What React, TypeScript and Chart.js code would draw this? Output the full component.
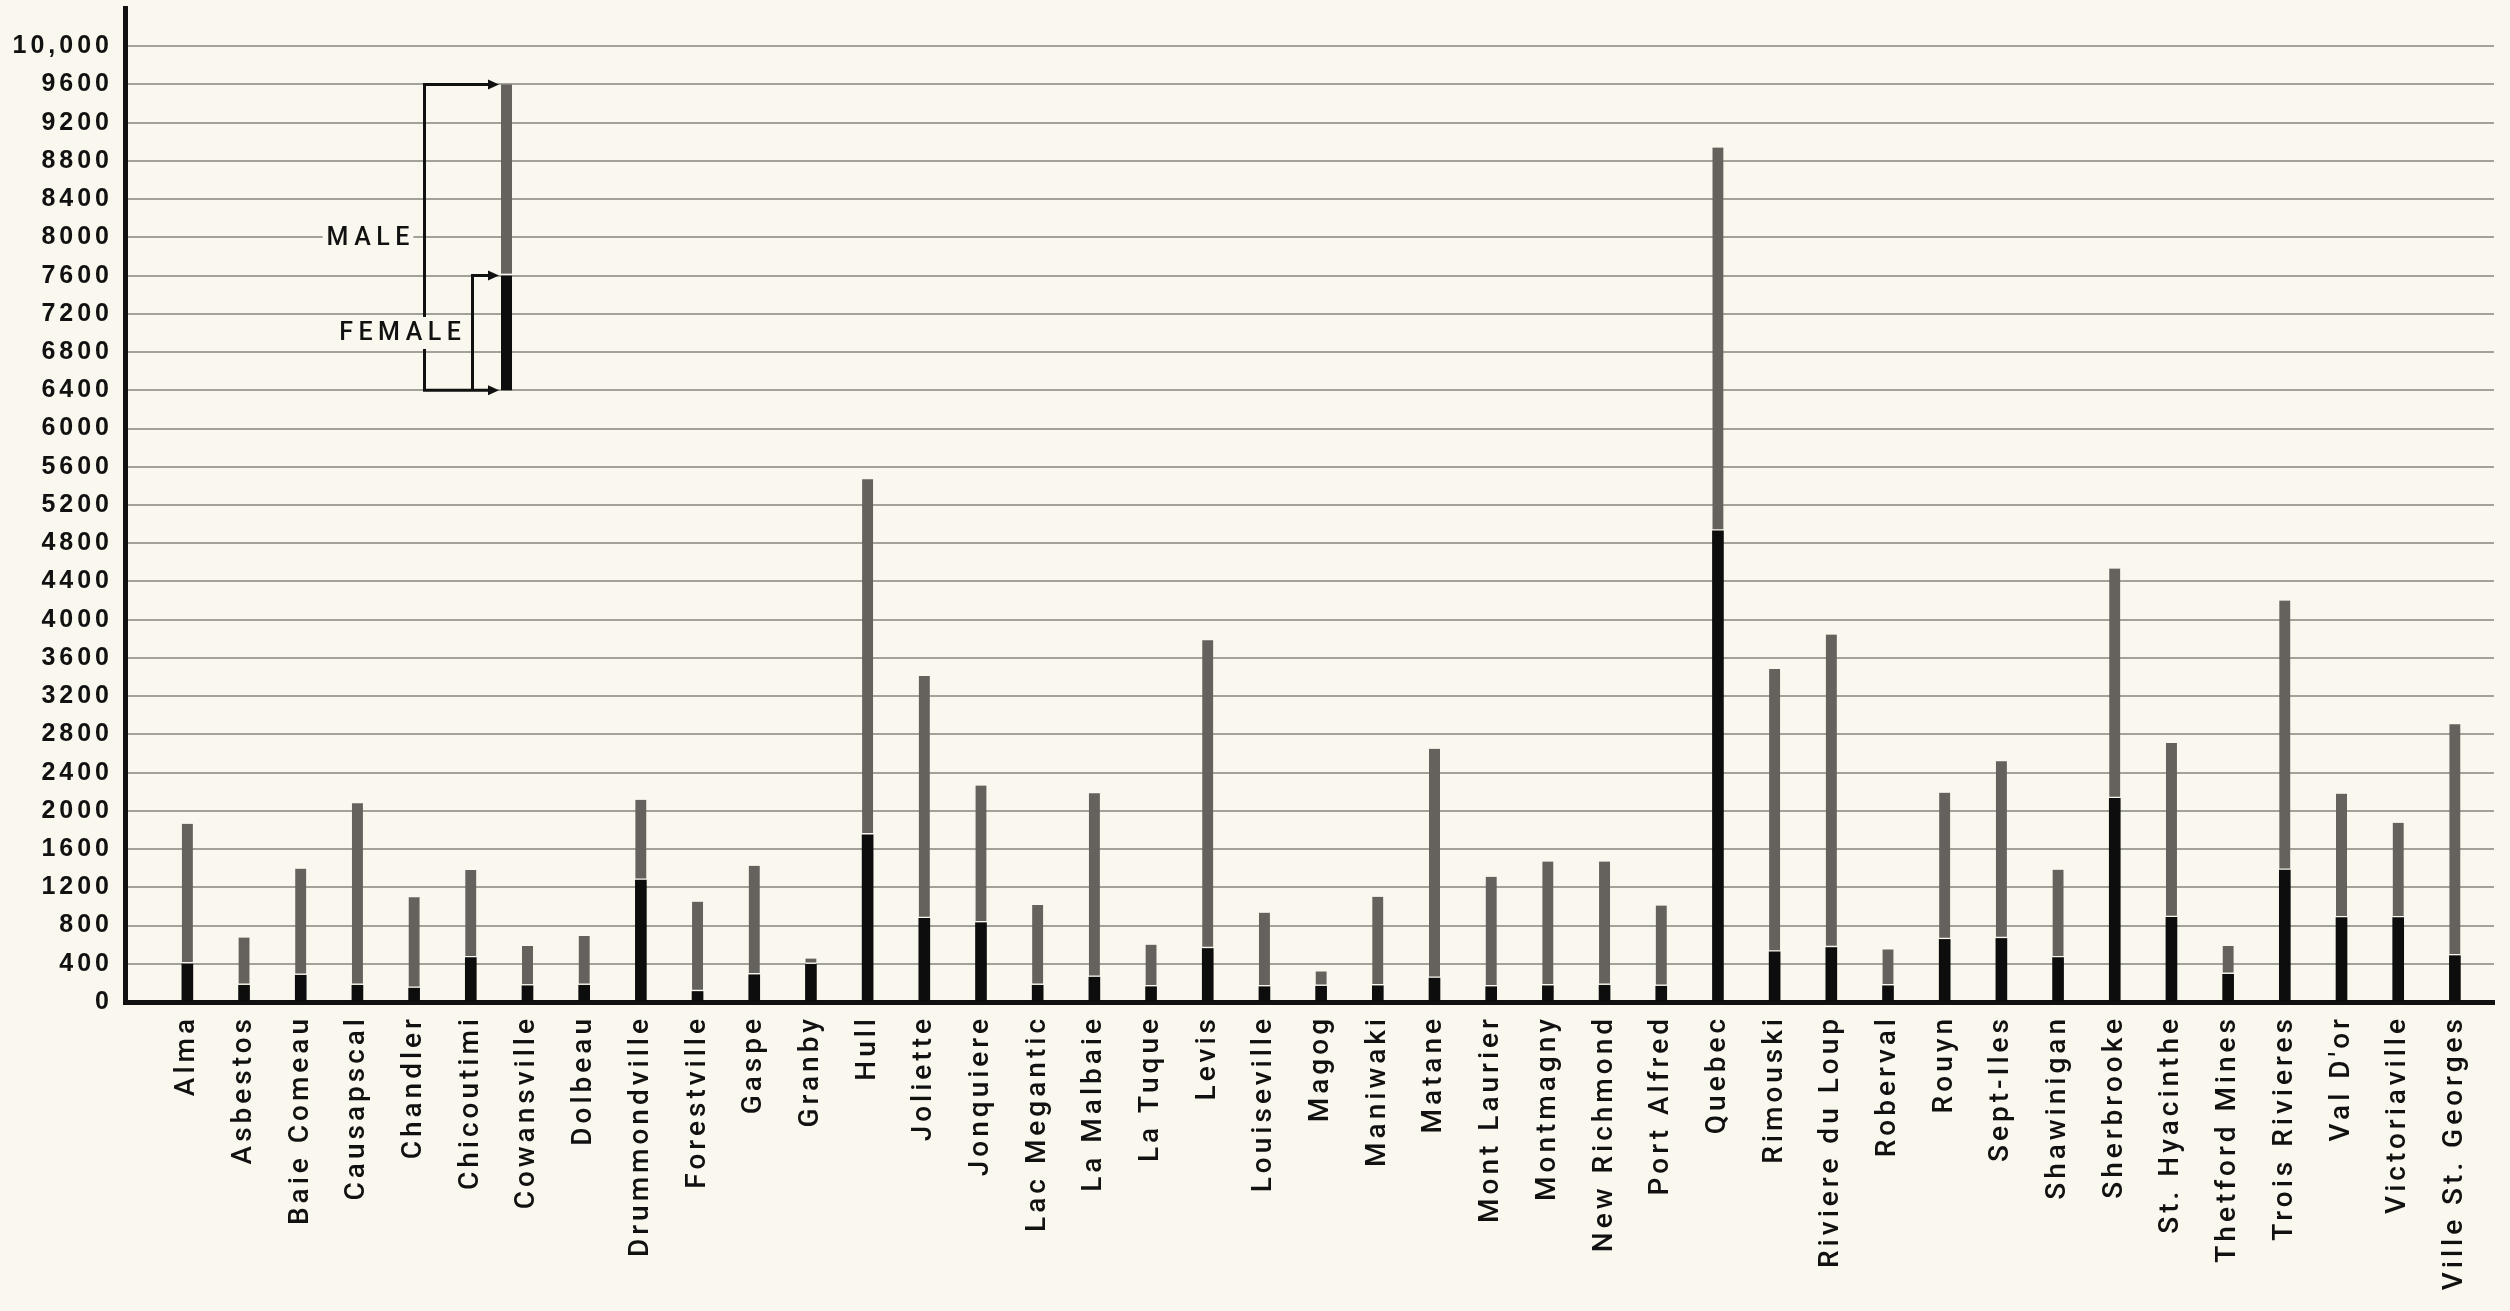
import React, { useEffect, useRef } from "react";
import { Chart, registerables } from "chart.js";

Chart.register(...registerables);

const cities = [
  "Alma", "Asbestos", "Baie Comeau", "Causapscal", "Chandler", "Chicoutimi",
  "Cowansville", "Dolbeau", "Drummondville", "Forestville", "Gaspe", "Granby",
  "Hull", "Joliette", "Jonquiere", "Lac Megantic", "La Malbaie", "La Tuque",
  "Levis", "Louiseville", "Magog", "Maniwaki", "Matane", "Mont Laurier",
  "Montmagny", "New Richmond", "Port Alfred", "Quebec", "Rimouski",
  "Riviere du Loup", "Roberval", "Rouyn", "Sept-Iles", "Shawinigan",
  "Sherbrooke", "St. Hyacinthe", "Thetford Mines", "Trois Rivieres", "Val D'or",
  "Victoriaville", "Ville St. Georges",
];

const female = [
  400, 175, 280, 175, 145, 465, 170, 175, 1275, 110, 285, 395, 1750, 875, 830,
  175, 260, 160, 560, 160, 165, 170, 250, 160, 170, 175, 165, 4930, 525, 570,
  170, 655, 665, 465, 2130, 885, 290, 1380, 882, 882, 485,
];

const male = [
  1465, 500, 1115, 1905, 950, 915, 415, 515, 840, 940, 1140, 60, 3720, 2535,
  1435, 840, 1925, 440, 3225, 775, 155, 930, 2400, 1150, 1300, 1295, 845, 4010,
  2960, 3275, 380, 1535, 1855, 920, 2405, 1825, 295, 2820, 1298, 993, 2420,
];

const yTickValues = [
  0, 400, 800, 1200, 1600, 2000, 2400, 2800, 3200, 3600, 4000, 4400, 4800,
  5200, 5600, 6000, 6400, 6800, 7200, 7600, 8000, 8400, 8800, 9200, 9600, 10000,
];
const yTickLabels = [
  "0", "400", "800", "1200", "1600", "2000", "2400", "2800", "3200", "3600",
  "4000", "4400", "4800", "5200", "5600", "6000", "6400", "6800", "7200",
  "7600", "8000", "8400", "8800", "9200", "9600", "10,000",
];

// sample key bar (legend)
const keyFemale = [6400, 7600];
const keyMale = [7600, 9600];
const keyPosition = 5.63;
const keyLabelValues = { male: 8000, female: 7000 };

const BG = "#faf8ee";
const FEMALE_COLOR = "#0d0d0d";
const MALE_COLOR = "#65625e";
const GRID_COLOR = "#a3a29a";
const INK = "#111111";
const BAR_W = 11;
const LABEL_FONT = "Roboto, 'Liberation Sans', Arial, sans-serif";

const spacingPlugin = {
  id: "spacingPlugin",
  beforeDraw(chart: any) {
    chart.ctx.letterSpacing = "4px";
  },
  afterDraw(chart: any) {
    chart.ctx.letterSpacing = "0px";
  },
};

const keyPlugin = {
  id: "keyPlugin",
  afterDatasetsDraw(chart: any) {
    const ctx = chart.ctx as CanvasRenderingContext2D;
    const x = chart.scales.x;
    const y = chart.scales.y;
    const cx = x.getPixelForValue(keyPosition);
    const half = BAR_W / 2;
    const yF0 = y.getPixelForValue(keyFemale[0]);
    const yF1 = y.getPixelForValue(keyFemale[1]);
    const yM0 = y.getPixelForValue(keyMale[0]);
    const yM1 = y.getPixelForValue(keyMale[1]);
    ctx.save();
    ctx.fillStyle = FEMALE_COLOR;
    ctx.fillRect(cx - half, yF1, BAR_W, yF0 - yF1);
    ctx.fillStyle = MALE_COLOR;
    ctx.fillRect(cx - half, yM1, BAR_W, yM0 - yM1 - 2);

    const xMale = cx - 82;
    const xFemale = cx - 34;
    const tip = cx - half - 2;
    const head = 11;
    ctx.strokeStyle = INK;
    ctx.lineWidth = 3;
    ctx.beginPath();
    ctx.moveTo(tip - head + 1, yM1);
    ctx.lineTo(xMale, yM1);
    ctx.lineTo(xMale, yF0);
    ctx.lineTo(tip - head + 1, yF0);
    ctx.moveTo(xFemale, yF0);
    ctx.lineTo(xFemale, yF1);
    ctx.lineTo(tip - head + 1, yF1);
    ctx.stroke();
    ctx.fillStyle = INK;
    for (const yy of [yM1, yF1, yF0]) {
      ctx.beginPath();
      ctx.moveTo(tip, yy);
      ctx.lineTo(tip - head, yy - 5);
      ctx.lineTo(tip - head, yy + 5);
      ctx.closePath();
      ctx.fill();
    }

    ctx.font = `500 25px ${LABEL_FONT}`;
    ctx.letterSpacing = "5.5px";
    ctx.textAlign = "left";
    ctx.textBaseline = "middle";
    const labels: [string, number, number][] = [
      ["MALE", cx - 138.5, y.getPixelForValue(keyLabelValues.male)],
      ["FEMALE", cx - 106.5, y.getPixelForValue(keyLabelValues.female)],
    ];
    for (const [t, mx, my] of labels) {
      const w = ctx.measureText(t).width - 5.5;
      ctx.fillStyle = BG;
      ctx.fillRect(mx - w / 2 - 4, my - 16, w + 8, 32);
      ctx.fillStyle = INK;
      ctx.fillText(t, mx - w / 2, my + 1);
    }
    ctx.restore();
  },
};

export default function App() {
  const ref = useRef<HTMLCanvasElement>(null);
  useEffect(() => {
    const canvas = ref.current;
    if (!canvas) return;
    const chart = new Chart(canvas, {
      type: "bar",
      data: {
        datasets: [
          {
            label: "Female",
            data: female.map((v, i) => ({ x: i, y: v })),
            backgroundColor: FEMALE_COLOR,
            barThickness: BAR_W,
            stack: "s",
          },
          {
            label: "Male",
            data: male.map((v, i) => ({ x: i, y: v })),
            backgroundColor: MALE_COLOR,
            borderColor: BG,
            borderWidth: { top: 0, left: 0, right: 0, bottom: 2 },
            borderSkipped: false,
            barThickness: BAR_W,
            stack: "s",
          },
        ],
      } as any,
      options: {
        animation: false,
        responsive: true,
        maintainAspectRatio: false,
        layout: { padding: { left: 0, right: 16, top: 8, bottom: 0 } },
        plugins: { legend: { display: false }, tooltip: { enabled: false } },
        scales: {
          x: {
            type: "linear",
            min: -1.1,
            max: 40.69,
            offset: false,
            stacked: true,
            grid: { display: false, drawTicks: false, offset: false },
            border: { display: true, color: INK, width: 5 },
            afterBuildTicks: (s: any) => {
              s.ticks = cities.map((_, i) => ({ value: i }));
            },
            afterFit: (s: any) => {
              s.height = 309;
              s.paddingLeft = 0;
              s.paddingRight = 0;
            },
            ticks: {
              autoSkip: false,
              minRotation: 90,
              maxRotation: 90,
              padding: 13,
              color: INK,
              font: { family: LABEL_FONT, size: 28, weight: "500" },
              callback: (v: any) => cities[Math.round(Number(v))] ?? "",
            },
          },
          y: {
            type: "linear",
            min: 0,
            max: 10400,
            stacked: true,
            afterBuildTicks: (s: any) => {
              s.ticks = yTickValues.map((v) => ({ value: v }));
            },
            afterFit: (s: any) => {
              s.width = 125;
              s.paddingTop = 0;
              s.paddingBottom = 0;
            },
            grid: {
              color: (c: any) => (c.tick && c.tick.value === 0 ? "rgba(0,0,0,0)" : GRID_COLOR),
              lineWidth: 2,
              drawTicks: false,
            },
            border: { display: true, color: INK, width: 5 },
            ticks: {
              padding: 12,
              color: INK,
              font: { family: "'Liberation Sans', Arial, sans-serif", size: 25, weight: "bold" },
              callback: (v: any) => {
                const idx = yTickValues.indexOf(Number(v));
                return idx >= 0 ? yTickLabels[idx] : "";
              },
            },
          },
        },
      } as any,
      plugins: [spacingPlugin, keyPlugin],
    });
    return () => chart.destroy();
  }, []);
  return (
    <div
      style={{
        position: "fixed",
        left: 0,
        top: 0,
        width: "100vw",
        height: "100vh",
        background: BG,
      }}
    >
      <canvas ref={ref} />
    </div>
  );
}
